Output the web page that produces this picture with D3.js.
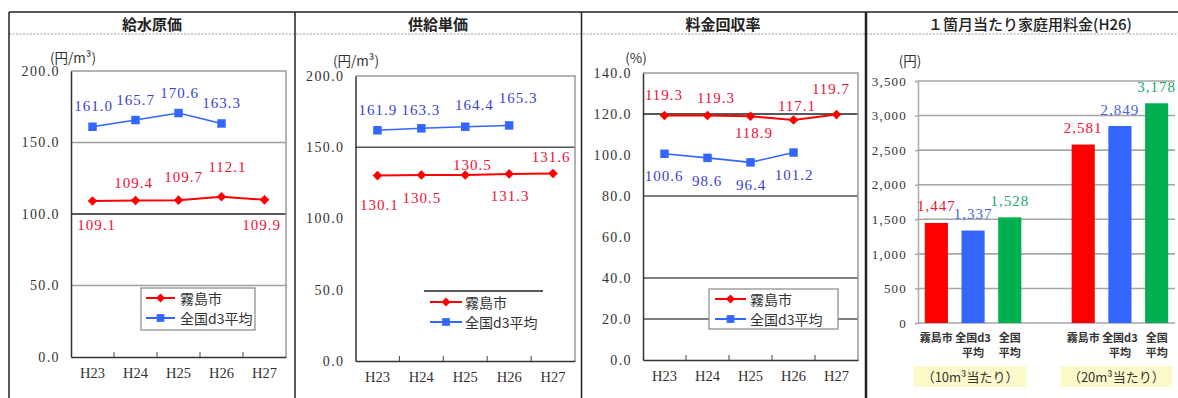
<!DOCTYPE html>
<html>
<head>
<meta charset="utf-8">
<script src="https://cdn.jsdelivr.net/npm/d3@7"></script>
<style>
  body { margin: 0; background: #fff; }
  svg { display: block; }
</style>
</head>
<body>
<svg id="chart" width="1178" height="398"></svg>
<script>
// ---------- data ----------
const years = ["H23", "H24", "H25", "H26", "H27"];
const seriesNames = ["霧島市", "全国d3平均"];

// 給水原価 (円/m³)
const supplyCostCity = [109.1, 109.4, 109.7, 112.1, 109.9];
const supplyCostAvg  = [161.0, 165.7, 170.6, 163.3];
const supplyCostTicks = [0, 50, 100, 150, 200];

// 供給単価 (円/m³)
const unitPriceCity = [130.1, 130.5, 130.5, 131.3, 131.6];
const unitPriceAvg  = [161.9, 163.3, 164.4, 165.3];
const unitPriceTicks = [0, 50, 100, 150, 200];

// 料金回収率 (%)
const recoveryCity = [119.3, 119.3, 118.9, 117.1, 119.7];
const recoveryAvg  = [100.6, 98.6, 96.4, 101.2];
const recoveryTicks = [0, 20, 40, 60, 80, 100, 120, 140];

// 1箇月当たり家庭用料金 (H26, 円)
const feeCategories = ["霧島市", "全国d3平均", "全国平均"];
const feeCategoryLines = [["霧島市"], ["全国d3", "平均"], ["全国", "平均"]];
const fee10m3 = [1447, 1337, 1528];
const fee20m3 = [2581, 2849, 3178];
const feeGroups = ["（10m³当たり）", "（20m³当たり）"];
const feeTicks = [0, 500, 1000, 1500, 2000, 2500, 3000, 3500];

// ---------- label placement (dx, dy of baseline from the point) ----------
const supplyCityLabelPos = [[4, 29], [-2, -12.5], [5, -18], [6, -24.5], [-3, 30]];
const supplyAvgLabelPos  = [[1, -16], [0, -15], [1, -15], [0, -15.5]];
const unitCityLabelPos   = [[2, 34.5], [0.5, 28], [7, -5], [1, 27], [-2, -11.5]];
const unitAvgLabelPos    = [[0.5, -15], [-0.5, -13], [9, -16.5], [9, -22]];
const recovCityLabelPos  = [[-0.5, -15.5], [8.5, -12.5], [3.5, 22], [3.5, -9], [-5.5, -20.5]];
const recovAvgLabelPos   = [[-0.5, 27], [-0.5, 28], [0.5, 27.5], [0.5, 27.5]];

// ---------- styles ----------
const RED = "#ff0000", RED_TXT = "#f0103a";
const BLUE = "#3366ff", BLUE_TXT = "#3a3fcf";
const GREEN = "#00b050", GREEN_TXT = "#20a868";
const NUM_FONT = "'Liberation Serif', 'DejaVu Serif', serif";
const JP_FONT = "'Noto Sans CJK JP', sans-serif";

const svg = d3.select("#chart");

// ---------- outer frame ----------
const frame = svg.append("g");
frame.append("line").attr("x1", 9).attr("x2", 1178).attr("y1", 12).attr("y2", 12)
  .attr("stroke", "#222").attr("stroke-width", 1.5);
frame.append("line").attr("x1", 9).attr("x2", 1178).attr("y1", 34).attr("y2", 34)
  .attr("stroke", "#9a9a9a").attr("stroke-width", 1).attr("stroke-dasharray", "2,1.5");
[[9, 1.5], [295, 1.5], [581.5, 1.5], [866, 2.5]].forEach(([x, w]) => {
  frame.append("line").attr("x1", x).attr("x2", x).attr("y1", 12).attr("y2", 398)
    .attr("stroke", "#222").attr("stroke-width", w);
});

function title(text, cx, weight) {
  svg.append("text").attr("x", cx).attr("y", 23)
    .attr("text-anchor", "middle").attr("dominant-baseline", "central")
    .attr("font-family", JP_FONT).attr("font-size", 15).attr("font-weight", weight)
    .attr("fill", "#222").text(text);
}

function unitLabel(text, cx, cy) {
  svg.append("text").attr("x", cx).attr("y", cy)
    .attr("text-anchor", "middle").attr("dominant-baseline", "central")
    .attr("font-family", JP_FONT).attr("font-size", 13.5).attr("fill", "#333").text(text);
}

// ---------- line panels ----------
function linePanel(cfg) {
  const g = svg.append("g");
  const { l, t, r, b } = cfg.plot;
  const x = d3.scaleBand().domain(years).range([l, r]);
  const y = d3.scaleLinear().domain([0, d3.max(cfg.ticks)]).range([b, t]);
  const cx = d => x(d) + x.bandwidth() / 2;

  // gridlines
  cfg.grid.forEach(gl => {
    g.append("line").attr("x1", l).attr("x2", r).attr("y1", y(gl.v)).attr("y2", y(gl.v))
      .attr("stroke", gl.c).attr("stroke-width", 1.3);
  });
  // plot border (top/right)
  g.append("path").attr("d", `M${l},${t}H${r}V${b}`).attr("fill", "none")
    .attr("stroke", "#9a9a9a").attr("stroke-width", 1.5);

  // y axis
  const ya = g.append("g").attr("transform", `translate(${l},0)`)
    .call(d3.axisLeft(y).tickValues(cfg.ticks).tickFormat(d3.format(".1f")).tickSize(0).tickPadding(11));
  ya.select(".domain").attr("stroke", "#333").attr("stroke-width", 1.5);
  ya.selectAll("text").attr("font-family", NUM_FONT).attr("font-size", 14)
    .attr("letter-spacing", 1.4).attr("fill", "#333");

  // x axis
  const xa = g.append("g").attr("transform", `translate(0,${b})`)
    .call(d3.axisBottom(x).tickSize(0).tickPadding(11));
  xa.select(".domain").attr("stroke", "#333").attr("stroke-width", 1.5);
  xa.selectAll("text").attr("font-family", NUM_FONT).attr("font-size", 14.5)
    .attr("fill", "#333");
  // category boundary ticks pointing into the plot
  years.slice(1).forEach(yr => {
    g.append("line").attr("x1", x(yr)).attr("x2", x(yr)).attr("y1", b).attr("y2", b - 5)
      .attr("stroke", "#444").attr("stroke-width", 1);
  });

  const line = d3.line().x((d, i) => cx(years[i])).y(d => y(d));

  // national d3 average (blue squares)
  g.append("path").datum(cfg.avg).attr("d", line).attr("fill", "none")
    .attr("stroke", BLUE).attr("stroke-width", 1.6);
  g.selectAll(".avgPt").data(cfg.avg).join("path").attr("class", "avgPt")
    .attr("transform", (d, i) => `translate(${cx(years[i])},${y(d)})`)
    .attr("d", d3.symbol(d3.symbolSquare, 72)()).attr("fill", BLUE);
  g.selectAll(".avgLbl").data(cfg.avg).join("text").attr("class", "avgLbl")
    .attr("x", (d, i) => cx(years[i]) + cfg.avgPos[i][0])
    .attr("y", (d, i) => y(d) + cfg.avgPos[i][1])
    .attr("text-anchor", "middle").attr("font-family", NUM_FONT).attr("font-size", 15)
    .attr("letter-spacing", 1).attr("fill", BLUE_TXT).text(d => d3.format(".1f")(d));

  // city (red diamonds)
  g.append("path").datum(cfg.city).attr("d", line).attr("fill", "none")
    .attr("stroke", RED).attr("stroke-width", 2);
  g.selectAll(".cityPt").data(cfg.city).join("path").attr("class", "cityPt")
    .attr("transform", (d, i) => `translate(${cx(years[i])},${y(d)}) rotate(45)`)
    .attr("d", d3.symbol(d3.symbolSquare, 46)()).attr("fill", RED);
  g.selectAll(".cityLbl").data(cfg.city).join("text").attr("class", "cityLbl")
    .attr("x", (d, i) => cx(years[i]) + cfg.cityPos[i][0])
    .attr("y", (d, i) => y(d) + cfg.cityPos[i][1])
    .attr("text-anchor", "middle").attr("font-family", NUM_FONT).attr("font-size", 15)
    .attr("letter-spacing", 1).attr("fill", RED_TXT).text(d => d3.format(".1f")(d));

  // legend
  const lg = cfg.legend;
  if (lg.box) {
    g.append("rect").attr("x", lg.x).attr("y", lg.y).attr("width", lg.w).attr("height", lg.h)
      .attr("fill", "#fff").attr("stroke", "#888").attr("stroke-width", 1.2);
  } else {
    g.append("line").attr("x1", lg.x).attr("x2", lg.x + lg.w).attr("y1", lg.y).attr("y2", lg.y)
      .attr("stroke", "#222").attr("stroke-width", 1.5);
  }
  const rows = [
    { name: seriesNames[0], color: RED, diamond: true },
    { name: seriesNames[1], color: BLUE, diamond: false }
  ];
  rows.forEach((row, i) => {
    const ry = lg.row0 + i * 20;
    g.append("line").attr("x1", lg.lx).attr("x2", lg.lx + lg.lw).attr("y1", ry).attr("y2", ry)
      .attr("stroke", row.color).attr("stroke-width", 2);
    g.append("path")
      .attr("transform", `translate(${lg.lx + lg.lw / 2},${ry})` + (row.diamond ? " rotate(45)" : ""))
      .attr("d", d3.symbol(d3.symbolSquare, row.diamond ? 40 : 60)()).attr("fill", row.color);
    g.append("text").attr("x", lg.tx).attr("y", ry).attr("dominant-baseline", "central")
      .attr("font-family", JP_FONT).attr("font-size", 14).attr("fill", "#333").text(row.name);
  });
}

title("給水原価", 152, 700);
unitLabel("(円/m³)", 73, 57);
linePanel({
  plot: { l: 71, t: 71, r: 286, b: 357 },
  ticks: supplyCostTicks,
  grid: [{ v: 150, c: "#a0a0a0" }, { v: 100, c: "#222" }, { v: 50, c: "#a0a0a0" }],
  city: supplyCostCity, avg: supplyCostAvg,
  cityPos: supplyCityLabelPos, avgPos: supplyAvgLabelPos,
  legend: { box: true, x: 141, y: 288, w: 114, h: 42, row0: 298, lx: 146, lw: 29, tx: 180 }
});

title("供給単価", 438, 700);
unitLabel("(円/m³)", 356, 60);
linePanel({
  plot: { l: 355.5, t: 76, r: 575, b: 361 },
  ticks: unitPriceTicks,
  grid: [{ v: 150, c: "#555" }],
  city: unitPriceCity, avg: unitPriceAvg,
  cityPos: unitCityLabelPos, avgPos: unitAvgLabelPos,
  legend: { box: false, x: 424, y: 291, w: 119, h: 0, row0: 302, lx: 430, lw: 32, tx: 465 }
});

title("料金回収率", 723, 700);
unitLabel("(%)", 636, 57);
linePanel({
  plot: { l: 643, t: 73, r: 858, b: 360 },
  ticks: recoveryTicks,
  grid: [{ v: 120, c: "#222" }, { v: 80, c: "#555" }, { v: 40, c: "#555" }, { v: 20, c: "#555" }],
  city: recoveryCity, avg: recoveryAvg,
  cityPos: recovCityLabelPos, avgPos: recovAvgLabelPos,
  legend: { box: true, x: 709, y: 289, w: 129, h: 40, row0: 299, lx: 715, lw: 31, tx: 750 }
});

// ---------- bar panel ----------
(function barPanel() {
  title("１箇月当たり家庭用料金(H26)", 1030, 500);
  unitLabel("(円)", 910, 60);

  const g = svg.append("g");
  const l = 918, r = 1175, t = 81, b = 323;
  const colors = [RED, BLUE, GREEN];
  const txtColors = [RED_TXT, "#4a62e0", GREEN_TXT];

  const bars = [];
  [fee10m3, fee20m3].forEach((vals, gi) => {
    vals.forEach((v, ci) => bars.push({ key: gi + "-" + ci, group: gi, cat: ci, value: v }));
  });
  const slots = [...bars.slice(0, 3).map(d => d.key), "gap", ...bars.slice(3).map(d => d.key)];

  const x = d3.scaleBand().domain(slots).range([l, r]).paddingInner(0.37).paddingOuter(0.185);
  const y = d3.scaleLinear().domain([0, d3.max(feeTicks)]).range([b, t]);

  // gridlines
  feeTicks.slice(1).forEach(v => {
    g.append("line").attr("x1", l).attr("x2", r).attr("y1", y(v)).attr("y2", y(v))
      .attr("stroke", "#a6a6a6").attr("stroke-width", 1.6);
  });

  const ya = g.append("g").attr("transform", `translate(${l},0)`)
    .call(d3.axisLeft(y).tickValues(feeTicks).tickFormat(d3.format(",")).tickSize(3).tickPadding(8));
  ya.select(".domain").attr("stroke", "#a6a6a6").attr("stroke-width", 1.4);
  ya.selectAll(".tick line").attr("stroke", "#a6a6a6").attr("stroke-width", 1.4);
  ya.selectAll("text").attr("font-family", NUM_FONT).attr("font-size", 13)
    .attr("letter-spacing", 1.2).attr("fill", "#333");

  g.append("line").attr("x1", l).attr("x2", r).attr("y1", b).attr("y2", b)
    .attr("stroke", "#a6a6a6").attr("stroke-width", 1.6);

  g.selectAll(".bar").data(bars).join("rect").attr("class", "bar")
    .attr("x", d => x(d.key)).attr("width", x.bandwidth())
    .attr("y", d => y(d.value)).attr("height", d => b - y(d.value))
    .attr("fill", d => colors[d.cat]);

  g.selectAll(".barLbl").data(bars).join("text").attr("class", "barLbl")
    .attr("x", d => x(d.key) + x.bandwidth() / 2)
    .attr("y", d => y(d.value) - 11.5)
    .attr("text-anchor", "middle").attr("font-family", NUM_FONT).attr("font-size", 15)
    .attr("letter-spacing", 1).attr("fill", d => txtColors[d.cat])
    .text(d => d3.format(",")(d.value));

  // category names under each bar
  bars.forEach(d => {
    const lines = feeCategoryLines[d.cat];
    lines.forEach((s, li) => {
      g.append("text").attr("x", x(d.key) + x.bandwidth() / 2).attr("y", 337 + li * 15)
        .attr("text-anchor", "middle").attr("dominant-baseline", "central")
        .attr("font-family", JP_FONT).attr("font-size", 11).attr("font-weight", 700)
        .attr("fill", "#333").text(s);
    });
  });

  // group captions on a pale yellow band
  feeGroups.forEach((label, gi) => {
    const keys = bars.filter(d => d.group === gi).map(d => d.key);
    const x0 = x(keys[0]) - 11;
    const x1 = Math.min(x(keys[keys.length - 1]) + x.bandwidth() + 5, 1172);
    g.append("rect").attr("x", x0).attr("y", 366).attr("width", x1 - x0).attr("height", 21)
      .attr("fill", "#fcfacb");
    g.append("text").attr("x", (x0 + x1) / 2).attr("y", 376.5)
      .attr("text-anchor", "middle").attr("dominant-baseline", "central")
      .attr("font-family", JP_FONT).attr("font-size", 13).attr("fill", "#333").text(label);
  });
})();
</script>
</body>
</html>
